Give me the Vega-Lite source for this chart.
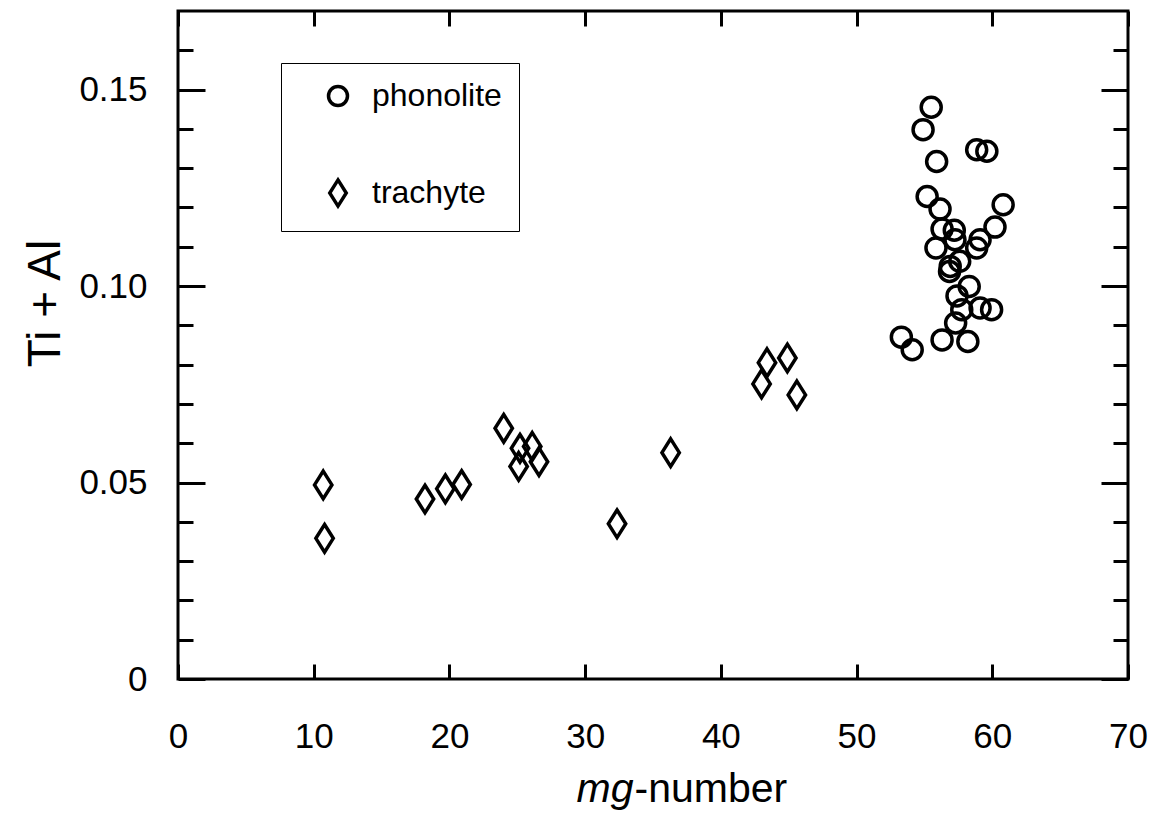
{
  "$schema": "https://vega.github.io/schema/vega-lite/v6.json",
  "width": 950,
  "height": 668,
  "autosize": {"type": "none"},
  "padding": {"left": 178, "top": 11, "right": 26, "bottom": 146},
  "background": "white",
  "config": {
    "font": "Liberation Sans",
    "view": {"stroke": "black", "strokeWidth": 3},
    "axis": {
      "domain": false,
      "grid": false,
      "tickColor": "black",
      "tickWidth": 3,
      "labelColor": "black",
      "titleColor": "black",
      "labelFont": "Liberation Sans",
      "titleFont": "Liberation Sans",
      "labelFontSize": 35,
      "titleFontWeight": "normal"
    }
  },
  "data": {
    "values": [
      {"rock": "phonolite", "mg": 55.5, "tial": 0.1455},
      {"rock": "phonolite", "mg": 54.9, "tial": 0.1398},
      {"rock": "phonolite", "mg": 58.85, "tial": 0.1347},
      {"rock": "phonolite", "mg": 59.6, "tial": 0.1343},
      {"rock": "phonolite", "mg": 55.9, "tial": 0.1317},
      {"rock": "phonolite", "mg": 55.2, "tial": 0.1228},
      {"rock": "phonolite", "mg": 60.8, "tial": 0.1207},
      {"rock": "phonolite", "mg": 56.15, "tial": 0.1196},
      {"rock": "phonolite", "mg": 60.2, "tial": 0.115},
      {"rock": "phonolite", "mg": 56.3, "tial": 0.1145},
      {"rock": "phonolite", "mg": 57.2, "tial": 0.1142},
      {"rock": "phonolite", "mg": 59.1, "tial": 0.1118},
      {"rock": "phonolite", "mg": 57.25, "tial": 0.1118},
      {"rock": "phonolite", "mg": 55.85, "tial": 0.1097},
      {"rock": "phonolite", "mg": 58.85, "tial": 0.1097},
      {"rock": "phonolite", "mg": 57.6, "tial": 0.1063},
      {"rock": "phonolite", "mg": 56.9, "tial": 0.105},
      {"rock": "phonolite", "mg": 56.85, "tial": 0.1037},
      {"rock": "phonolite", "mg": 58.3, "tial": 0.0999},
      {"rock": "phonolite", "mg": 57.4, "tial": 0.0975},
      {"rock": "phonolite", "mg": 59.1, "tial": 0.0944},
      {"rock": "phonolite", "mg": 59.95, "tial": 0.094},
      {"rock": "phonolite", "mg": 57.75, "tial": 0.094},
      {"rock": "phonolite", "mg": 57.3, "tial": 0.0906},
      {"rock": "phonolite", "mg": 53.3, "tial": 0.087},
      {"rock": "phonolite", "mg": 54.1, "tial": 0.0838},
      {"rock": "phonolite", "mg": 56.3, "tial": 0.0863},
      {"rock": "phonolite", "mg": 58.2, "tial": 0.0859},
      {"rock": "trachyte", "mg": 10.7, "tial": 0.0494},
      {"rock": "trachyte", "mg": 10.8, "tial": 0.0358},
      {"rock": "trachyte", "mg": 18.2, "tial": 0.0458},
      {"rock": "trachyte", "mg": 19.7, "tial": 0.0484},
      {"rock": "trachyte", "mg": 20.9, "tial": 0.0495},
      {"rock": "trachyte", "mg": 24.0, "tial": 0.0638},
      {"rock": "trachyte", "mg": 25.2, "tial": 0.0587},
      {"rock": "trachyte", "mg": 26.1, "tial": 0.0592},
      {"rock": "trachyte", "mg": 25.1, "tial": 0.0541},
      {"rock": "trachyte", "mg": 26.6, "tial": 0.0553},
      {"rock": "trachyte", "mg": 32.35, "tial": 0.0395},
      {"rock": "trachyte", "mg": 36.3, "tial": 0.0576},
      {"rock": "trachyte", "mg": 43.4, "tial": 0.0805},
      {"rock": "trachyte", "mg": 44.9, "tial": 0.0817},
      {"rock": "trachyte", "mg": 43.0, "tial": 0.0751},
      {"rock": "trachyte", "mg": 45.6, "tial": 0.0723}
    ]
  },
  "layer": [
    {
      "mark": {"type": "point", "filled": false, "stroke": "black", "strokeWidth": 3.5, "size": 400, "opacity": 1},
      "encoding": {
        "x": {
          "field": "mg",
          "type": "quantitative",
          "scale": {"domain": [0, 70], "nice": false, "zero": false},
          "axis": {
            "orient": "bottom",
            "values": [0, 10, 20, 30, 40, 50, 60, 70],
            "tickSize": -15,
            "labelPadding": 55,
            "labelFlush": false,
            "labelOverlap": false,
            "labelAngle": 0,
            "title": "-number",
            "titleFontSize": 41,
            "titleAlign": "left",
            "titleBaseline": "alphabetic",
            "titleX": 456,
            "titleY": 122
          }
        },
        "y": {
          "field": "tial",
          "type": "quantitative",
          "scale": {"domain": [0, 0.17], "nice": false, "zero": false},
          "axis": {
            "orient": "left",
            "values": [0, 0.01, 0.02, 0.03, 0.04, 0.05, 0.06, 0.07, 0.08, 0.09, 0.1, 0.11, 0.12, 0.13, 0.14, 0.15, 0.16],
            "format": ".2f",
            "labelExpr": "round(datum.value*100) % 5 == 0 ? (datum.value == 0 ? '0' : datum.label) : ''",
            "tickSize": {"condition": {"test": "round(datum.value*100) % 5 == 0", "value": -27}, "value": -15},
            "labelPadding": 58,
            "labelFlush": false,
            "labelOverlap": false,
            "title": "Ti + Al",
            "titleFontSize": 46,
            "titleAngle": -90,
            "titleAlign": "center",
            "titleBaseline": "middle",
            "titleX": -133,
            "titleY": 292
          }
        },
        "shape": {
          "field": "rock",
          "type": "nominal",
          "scale": {"domain": ["phonolite", "trachyte"], "range": ["circle", "M0,-1.38L0.87,0L0,1.38L-0.87,0Z"]},
          "legend": {
            "orient": "none",
            "legendX": 103,
            "legendY": 52,
            "title": null,
            "strokeColor": "black",
            "fillColor": "white",
            "padding": 17,
            "rowPadding": 59,
            "labelFontSize": 32,
            "labelFont": "Liberation Sans",
            "labelColor": "black",
            "labelOffset": 18,
            "symbolSize": 360,
            "symbolStrokeWidth": 3.5,
            "symbolStrokeColor": "black",
            "symbolFillColor": "transparent",
            "symbolOffset": 24
          }
        }
      }
    },
    {
      "mark": {"type": "point", "opacity": 0},
      "encoding": {
        "x": {
          "field": "mg",
          "type": "quantitative",
          "scale": {"domain": [0, 70], "nice": false, "zero": false},
          "axis": {
            "orient": "top",
            "values": [0, 10, 20, 30, 40, 50, 60, 70],
            "tickSize": -15,
            "labels": false,
            "title": "mg",
            "titleFontStyle": "italic",
            "titleFontSize": 41,
            "titleAlign": "right",
            "titleBaseline": "alphabetic",
            "titleX": 455,
            "titleY": 790
          }
        },
        "y": {
          "field": "tial",
          "type": "quantitative",
          "scale": {"domain": [0, 0.17], "nice": false, "zero": false},
          "axis": {
            "orient": "right",
            "values": [0, 0.01, 0.02, 0.03, 0.04, 0.05, 0.06, 0.07, 0.08, 0.09, 0.1, 0.11, 0.12, 0.13, 0.14, 0.15, 0.16],
            "tickSize": {"condition": {"test": "round(datum.value*100) % 5 == 0", "value": -27}, "value": -15},
            "labels": false,
            "title": null
          }
        }
      }
    }
  ],
  "resolve": {"axis": {"x": "independent", "y": "independent"}}
}
